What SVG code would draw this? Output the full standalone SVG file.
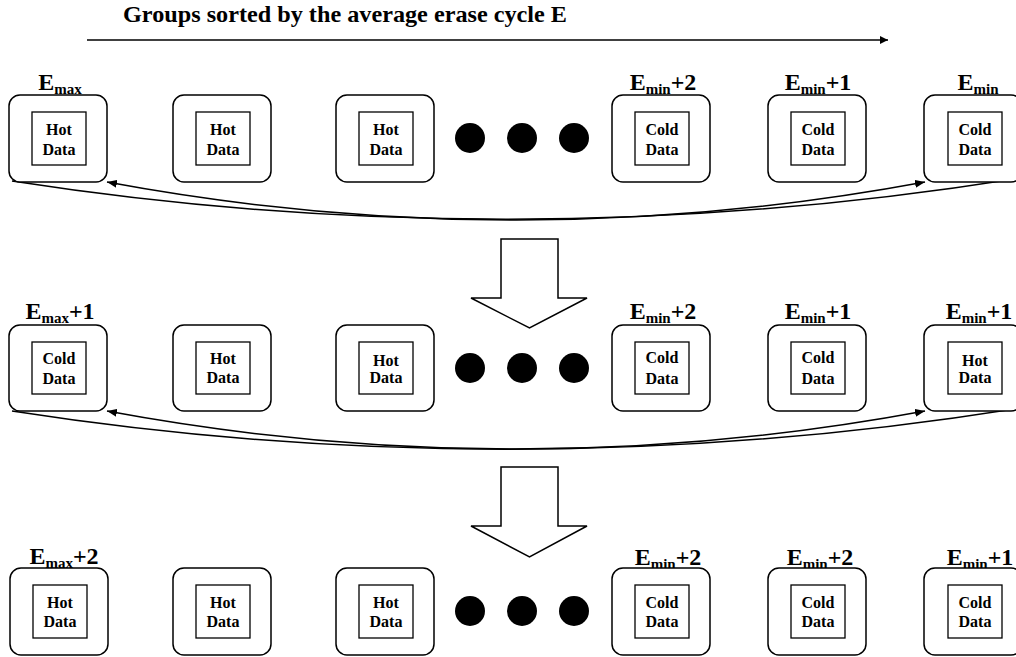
<svg xmlns="http://www.w3.org/2000/svg" width="1016" height="657" viewBox="0 0 1016 657">
<style>
text{font-family:"Liberation Serif","Times New Roman",serif;font-weight:bold;fill:#000}
.box{fill:#fff;stroke:#000;stroke-width:1.5}
.inner{fill:#fff;stroke:#000;stroke-width:1.3}
.lbl{font-size:24px;text-anchor:middle}
.d{font-size:16px;text-anchor:middle}
.conn{fill:none;stroke:#000;stroke-width:1.5}
.big{fill:#fff;stroke:#000;stroke-width:1.5;stroke-linejoin:miter}
.dot{fill:#000}
</style>
<defs>
<marker id="ah" viewBox="0 0 10 8" refX="10" refY="4" markerWidth="10" markerHeight="8" markerUnits="userSpaceOnUse" orient="auto-start-reverse">
<path d="M0,0 L10,4 L0,8 Z" fill="#000"/>
</marker>
<marker id="ah2" viewBox="0 0 8 8" refX="8" refY="4" markerWidth="8" markerHeight="8" markerUnits="userSpaceOnUse" orient="auto">
<path d="M0,0 L8,4 L0,8 Z" fill="#000"/>
</marker>
</defs>

<g id="title">
<text x="123" y="22" font-size="24" textLength="444" lengthAdjust="spacingAndGlyphs">Groups sorted by the average erase cycle E</text>
</g>

<g id="connectors">
<line class="conn" x1="87" y1="40" x2="888" y2="40" marker-end="url(#ah2)"/>
<path class="conn" d="M12 181 Q515 259 1020 178"/>
<path class="conn" d="M107 182 Q516 258 925 182" marker-start="url(#ah)" marker-end="url(#ah)"/>
<path class="conn" d="M12 411 Q515 489 1020 408"/>
<path class="conn" d="M107 411 Q516 487 925 411" marker-start="url(#ah)" marker-end="url(#ah)"/>
</g>

<g id="bigarrow1"><path class="big" d="M501 239 L558 239 L558 298 L587 298 L529.5 328 L471 298 L501 298 Z"/></g>
<g id="bigarrow2"><path class="big" d="M501 467 L558 467 L558 526 L587 526 L529.5 557 L471 526 L501 526 Z"/></g>

<!-- Row 1 -->
<g id="r1b1"><text class="lbl" x="60" y="90">E<tspan dy="4" font-size="15">max</tspan></text><rect class="box" x="9" y="95" width="98" height="87" rx="11"/><rect class="inner" x="32" y="112" width="54" height="53"/><text class="d" x="59" y="135">Hot</text><text class="d" x="59" y="155">Data</text></g>
<g id="r1b2"><rect class="box" x="173" y="95" width="98" height="87" rx="11"/><rect class="inner" x="196" y="112" width="54" height="53"/><text class="d" x="223" y="135">Hot</text><text class="d" x="223" y="155">Data</text></g>
<g id="r1b3"><rect class="box" x="336" y="95" width="98" height="87" rx="11"/><rect class="inner" x="359" y="112" width="54" height="53"/><text class="d" x="386" y="135">Hot</text><text class="d" x="386" y="155">Data</text></g>
<g id="r1dots"><circle class="dot" cx="470" cy="138" r="15"/><circle class="dot" cx="522" cy="138" r="15"/><circle class="dot" cx="574" cy="138" r="15"/></g>
<g id="r1b4"><text class="lbl" x="663" y="90">E<tspan dy="4" font-size="15">min</tspan><tspan dy="-4">+2</tspan></text><rect class="box" x="612" y="95" width="98" height="87" rx="11"/><rect class="inner" x="635" y="112" width="54" height="53"/><text class="d" x="662" y="135">Cold</text><text class="d" x="662" y="155">Data</text></g>
<g id="r1b5"><text class="lbl" x="818" y="90">E<tspan dy="4" font-size="15">min</tspan><tspan dy="-4">+1</tspan></text><rect class="box" x="768" y="95" width="98" height="87" rx="11"/><rect class="inner" x="791" y="112" width="54" height="53"/><text class="d" x="818" y="135">Cold</text><text class="d" x="818" y="155">Data</text></g>
<g id="r1b6"><text class="lbl" x="978" y="90">E<tspan dy="4" font-size="15">min</tspan></text><rect class="box" x="924" y="95" width="98" height="87" rx="11"/><rect class="inner" x="948" y="112" width="54" height="53"/><text class="d" x="975" y="135">Cold</text><text class="d" x="975" y="155">Data</text></g>

<!-- Row 2 -->
<g id="r2b1"><text class="lbl" x="60" y="319">E<tspan dy="4" font-size="15">max</tspan><tspan dy="-4">+1</tspan></text><rect class="box" x="9" y="325" width="98" height="86" rx="11"/><rect class="inner" x="32" y="342" width="54" height="52"/><text class="d" x="59" y="364">Cold</text><text class="d" x="59" y="384">Data</text></g>
<g id="r2b2"><rect class="box" x="173" y="325" width="98" height="86" rx="11"/><rect class="inner" x="196" y="342" width="54" height="52"/><text class="d" x="223" y="364">Hot</text><text class="d" x="223" y="383">Data</text></g>
<g id="r2b3"><rect class="box" x="336" y="325" width="98" height="86" rx="11"/><rect class="inner" x="359" y="342" width="54" height="52"/><text class="d" x="386" y="366">Hot</text><text class="d" x="386" y="383">Data</text></g>
<g id="r2dots"><circle class="dot" cx="470" cy="368" r="15"/><circle class="dot" cx="522" cy="368" r="15"/><circle class="dot" cx="574" cy="368" r="15"/></g>
<g id="r2b4"><text class="lbl" x="663" y="319">E<tspan dy="4" font-size="15">min</tspan><tspan dy="-4">+2</tspan></text><rect class="box" x="612" y="325" width="98" height="86" rx="11"/><rect class="inner" x="635" y="342" width="54" height="52"/><text class="d" x="662" y="363">Cold</text><text class="d" x="662" y="384">Data</text></g>
<g id="r2b5"><text class="lbl" x="818" y="319">E<tspan dy="4" font-size="15">min</tspan><tspan dy="-4">+1</tspan></text><rect class="box" x="768" y="325" width="98" height="86" rx="11"/><rect class="inner" x="791" y="342" width="54" height="52"/><text class="d" x="818" y="363">Cold</text><text class="d" x="818" y="384">Data</text></g>
<g id="r2b6"><text class="lbl" x="979" y="319">E<tspan dy="4" font-size="15">min</tspan><tspan dy="-4">+1</tspan></text><rect class="box" x="924" y="325" width="98" height="86" rx="11"/><rect class="inner" x="948" y="342" width="54" height="52"/><text class="d" x="975" y="366">Hot</text><text class="d" x="975" y="383">Data</text></g>

<!-- Row 3 -->
<g id="r3b1"><text class="lbl" x="64" y="564">E<tspan dy="4" font-size="15">max</tspan><tspan dy="-4">+2</tspan></text><rect class="box" x="10" y="568" width="98" height="87" rx="11"/><rect class="inner" x="33" y="585" width="54" height="53"/><text class="d" x="60" y="608">Hot</text><text class="d" x="60" y="627">Data</text></g>
<g id="r3b2"><rect class="box" x="173" y="568" width="98" height="87" rx="11"/><rect class="inner" x="196" y="585" width="54" height="53"/><text class="d" x="223" y="608">Hot</text><text class="d" x="223" y="627">Data</text></g>
<g id="r3b3"><rect class="box" x="336" y="568" width="98" height="87" rx="11"/><rect class="inner" x="359" y="585" width="54" height="53"/><text class="d" x="386" y="608">Hot</text><text class="d" x="386" y="627">Data</text></g>
<g id="r3dots"><circle class="dot" cx="470" cy="611" r="15"/><circle class="dot" cx="522" cy="611" r="15"/><circle class="dot" cx="574" cy="611" r="15"/></g>
<g id="r3b4"><text class="lbl" x="668" y="565">E<tspan dy="4" font-size="15">min</tspan><tspan dy="-4">+2</tspan></text><rect class="box" x="612" y="568" width="98" height="87" rx="11"/><rect class="inner" x="635" y="585" width="54" height="53"/><text class="d" x="662" y="608">Cold</text><text class="d" x="662" y="627">Data</text></g>
<g id="r3b5"><text class="lbl" x="820" y="565">E<tspan dy="4" font-size="15">min</tspan><tspan dy="-4">+2</tspan></text><rect class="box" x="768" y="568" width="98" height="87" rx="11"/><rect class="inner" x="791" y="585" width="54" height="53"/><text class="d" x="818" y="608">Cold</text><text class="d" x="818" y="627">Data</text></g>
<g id="r3b6"><text class="lbl" x="980" y="565">E<tspan dy="4" font-size="15">min</tspan><tspan dy="-4">+1</tspan></text><rect class="box" x="924" y="568" width="98" height="87" rx="11"/><rect class="inner" x="948" y="585" width="54" height="53"/><text class="d" x="975" y="608">Cold</text><text class="d" x="975" y="627">Data</text></g>
</svg>
